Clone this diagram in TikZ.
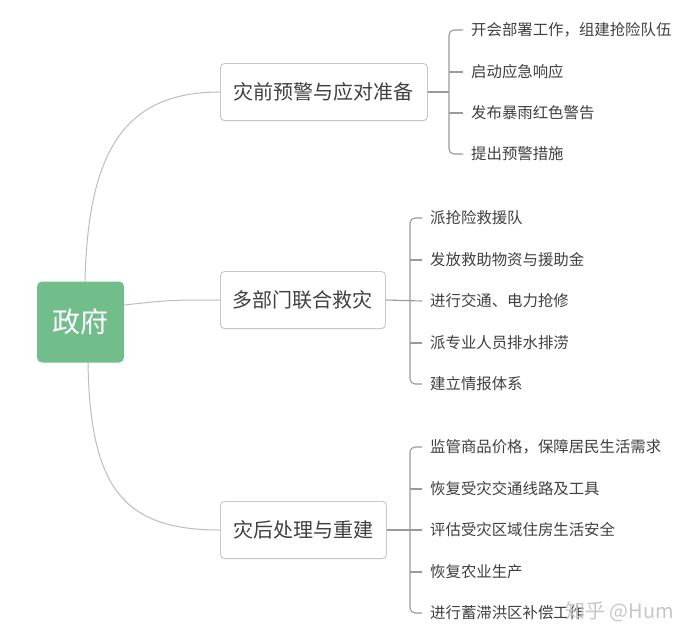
\documentclass[tikz,border=0pt]{standalone}
\usepackage{fontspec}
\setmainfont{Noto Sans CJK SC}
\usetikzlibrary{shadows}
\definecolor{rootgreen}{HTML}{72BE8B}
\definecolor{txtgray}{HTML}{404040}
\definecolor{linegray}{HTML}{9A9A9A}
\definecolor{curvegray}{HTML}{BDBDBD}
\definecolor{boxborder}{HTML}{C8C8C8}
\tikzset{
  rootbox/.style={fill=rootgreen, rounded corners=5pt, minimum width=87pt, minimum height=81pt, text=white, font=\fontsize{28}{28}\selectfont, inner sep=0pt},
  branchbox/.style={draw=boxborder, fill=white, rounded corners=4pt, line width=0.9pt, minimum height=57pt, text=txtgray, font=\fontsize{20}{20}\selectfont, inner sep=0pt, anchor=west, drop shadow={shadow xshift=0pt, shadow yshift=-1pt, opacity=0.12}},
  leaf/.style={text=txtgray, font=\fontsize{15.4}{16}\selectfont, inner sep=0pt, anchor=west},
  curveline/.style={draw=curvegray, line width=1pt},
  bracket/.style={draw=linegray, line width=1.1pt, rounded corners=5pt},
  tick/.style={draw=linegray, line width=1.1pt}
}
\begin{document}
\begin{tikzpicture}[x=1pt,y=-1pt]
\useasboundingbox (0,0) rectangle (690,638);
\fill[white] (0,0) rectangle (690,638);
% root
\node[rootbox] (root) at (80.5,322) {政府};
% branches
\node[branchbox, minimum width=207pt] (b1) at (220,92) {灾前预警与应对准备};
\node[branchbox, minimum width=165pt] (b2) at (220,300) {多部门联合救灾};
\node[branchbox, minimum width=166pt] (b3) at (220,530) {灾后处理与重建};
% curves
\coordinate (r1) at (85,281.5);
\coordinate (r3) at (88,362.5);
\draw[curveline] (r1) .. controls (88,150) and (125,92) .. (b1.west);
\draw[curveline] (root.east |- 0,305) .. controls (170,300) .. (b2.west);
\draw[curveline] (r3) .. controls (90,490) and (125,530) .. (b3.west);
% group 1 leaves
\node[leaf] (a1) at (471,30) {开会部署工作，组建抢险队伍};
\node[leaf] (a2) at (471,72) {启动应急响应};
\node[leaf] (a3) at (471,113) {发布暴雨红色警告};
\node[leaf] (a4) at (471,154) {提出预警措施};
% group 2 leaves
\node[leaf] (c1) at (430,218) {派抢险救援队};
\node[leaf] (c2) at (430,260) {发放救助物资与援助金};
\node[leaf] (c3) at (430,301) {进行交通、电力抢修};
\node[leaf] (c4) at (430,343) {派专业人员排水排涝};
\node[leaf] (c5) at (430,384) {建立情报体系};
% group 3 leaves
\node[leaf] (d1) at (430,447) {监管商品价格，保障居民生活需求};
\node[leaf] (d2) at (430,489) {恢复受灾交通线路及工具};
\node[leaf] (d3) at (430,530) {评估受灾区域住房生活安全};
\node[leaf] (d4) at (430,572) {恢复农业生产};
\node[leaf] (d5) at (430,613) {进行蓄滞洪区补偿工作};
% group 1 bracket
\coordinate (v1) at (449,92);
\draw[tick] (b1.east) -- (v1);
\draw[bracket] ([xshift=-8pt]a1.west) -| (v1) |- ([xshift=-8pt]a4.west);
\draw[tick] (v1 |- a2.west) -- ([xshift=-8pt]a2.west);
\draw[tick] (v1 |- a3.west) -- ([xshift=-8pt]a3.west);
% group 2 bracket
\coordinate (v2) at (410,300);
\draw[tick] (b2.east) -- ([xshift=-8pt]c3.west);
\draw[bracket] ([xshift=-8pt]c1.west) -| (v2) |- ([xshift=-8pt]c5.west);
\draw[tick] (v2 |- c2.west) -- ([xshift=-8pt]c2.west);
\draw[tick] (v2 |- c4.west) -- ([xshift=-8pt]c4.west);
% group 3 bracket
\coordinate (v3) at (410,530);
\draw[tick] (b3.east) -- ([xshift=-8pt]d3.west);
\draw[bracket] ([xshift=-8pt]d1.west) -| (v3) |- ([xshift=-8pt]d5.west);
\draw[tick] (v3 |- d2.west) -- ([xshift=-8pt]d2.west);
\draw[tick] (v3 |- d4.west) -- ([xshift=-8pt]d4.west);
% watermark
\node[anchor=west, inner sep=0pt, text=black!22, font=\fontsize{20}{20}\selectfont] (wm) at (565,612) {知乎 @Hum};
\end{tikzpicture}
\end{document}
